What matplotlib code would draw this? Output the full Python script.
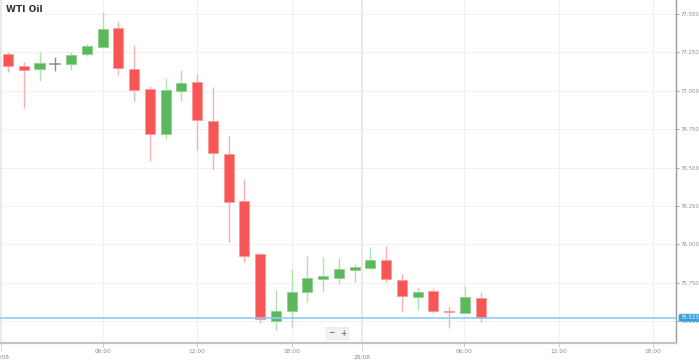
import matplotlib
matplotlib.use("Agg")
import matplotlib.pyplot as plt
from matplotlib.patches import Rectangle
import matplotlib.transforms as mtransforms

# ---- data (hourly candles, WTI Oil) ----
opens  = [77.238, 77.162, 77.140, 77.175, 77.175, 77.238, 77.287, 77.409, 77.145, 77.010,
          76.719, 76.999, 77.056, 76.804, 76.587, 76.283, 75.939, 75.503, 75.570, 75.693,
          75.778, 75.780, 75.834, 75.845, 75.899, 75.767, 75.661, 75.698, 75.566, 75.557,
          75.654]
highs  = [77.255, 77.190, 77.251, 77.222, 77.251, 77.305, 77.515, 77.456, 77.296, 77.032,
          77.082, 77.136, 77.110, 77.027, 76.706, 76.425, 75.943, 75.704, 75.841, 75.925,
          75.921, 75.911, 75.873, 75.986, 75.993, 75.806, 75.722, 75.715, 75.600, 75.730,
          75.689]
lows   = [77.125, 76.886, 77.066, 77.129, 77.136, 77.227, 77.280, 77.103, 76.935, 76.546,
          76.685, 76.936, 76.615, 76.482, 76.015, 75.888, 75.488, 75.444, 75.462, 75.626,
          75.693, 75.741, 75.754, 75.839, 75.754, 75.559, 75.574, 75.553, 75.455, 75.555,
          75.498]
closes = [77.162, 77.134, 77.183, 77.175, 77.233, 77.294, 77.404, 77.149, 77.004, 76.721,
          77.004, 77.049, 76.812, 76.594, 76.279, 75.927, 75.514, 75.568, 75.693, 75.782,
          75.795, 75.841, 75.852, 75.901, 75.774, 75.665, 75.693, 75.568, 75.562, 75.661,
          75.520]
current_price = 75.523

ytick_values = [75.50, 75.75, 76.00, 76.25, 76.50, 76.75, 77.00, 77.25, 77.50]
time_tick_pos = [6.03, 12.0, 18.03, 28.95, 34.98, 40.95]
time_tick_labels = ["06:00", "12:00", "18:00", "06:00", "12:00", "18:00"]
date_tick_pos = [-0.44, 22.48]
date_tick_labels = ["27/08", "28/08"]
title = "WTI Oil"

# ---- styling ----
RED_BODY, RED_EDGE, RED_WICK = "#f65656", "#f99a9a", "#f8b0b0"
GRN_BODY, GRN_EDGE, GRN_WICK = "#5cb85c", "#8fd08f", "#b0dfb0"
DOJI = "#8a8a8a"
TICK_COLOR = "#8c8c8c"

fig = plt.figure(figsize=(6.99, 3.61), dpi=100)
fig.patch.set_facecolor("white")
ax = fig.add_axes([0, 18 / 361, 676 / 699, 343 / 361])
ax.set_facecolor("white")

ax.set_xlim(-0.509, 42.4)
ax.set_ylim(75.359, 77.591)

# grid
for y in ytick_values:
    ax.axhline(y, color="#f1f1f1", lw=0.9, zorder=0)
for x in time_tick_pos:
    ax.axvline(x, color="#f1f1f1", lw=0.9, zorder=0)
for x in date_tick_pos:
    ax.axvline(x, color="#e9e9e9", lw=1.4, zorder=0)

# candles
w = 0.64
for i, (o, h, l, c) in enumerate(zip(opens, highs, lows, closes)):
    if c > o:
        body, edge, wick = GRN_BODY, GRN_EDGE, GRN_WICK
    elif c < o:
        body, edge, wick = RED_BODY, RED_EDGE, RED_WICK
    else:
        body, edge, wick = DOJI, DOJI, DOJI
    ax.plot([i, i], [l, h], color=wick, lw=1.0, zorder=2, solid_capstyle="butt")
    if c == o:
        ax.plot([i - w / 2, i + w / 2], [o, o], color=body, lw=1.1, zorder=3)
    else:
        lo, hi = min(o, c), max(o, c)
        ax.add_patch(Rectangle((i - w / 2, lo), w, max(hi - lo, 0.004),
                               facecolor=body, edgecolor=edge, lw=0.6, zorder=3))

# current price line
ax.axhline(current_price, color="#8fcdf0", lw=1.2, zorder=4)

# spines
for s in ["top", "left"]:
    ax.spines[s].set_visible(False)
ax.spines["right"].set_color("#9a9a9a")
ax.spines["right"].set_linewidth(1.0)
ax.spines["bottom"].set_color("#c4c4c4")
ax.spines["bottom"].set_linewidth(1.6)

# y axis on right
ax.yaxis.tick_right()
ax.set_yticks(ytick_values)
ax.set_yticklabels([f"{v:.3f}" for v in ytick_values])
ax.tick_params(axis="y", which="major", length=2.0, width=0.6, color="#9a9a9a",
               labelsize=3.9, labelcolor=TICK_COLOR, pad=1.0)

# x axis
ax.set_xticks(time_tick_pos)
ax.set_xticklabels(time_tick_labels)
ax.set_xticks(date_tick_pos, minor=True)
ax.set_xticklabels(date_tick_labels, minor=True)
ax.tick_params(axis="x", which="major", length=3, width=0.6, color="#c4c4c4",
               labelsize=4.2, labelcolor=TICK_COLOR, pad=1.5)
ax.tick_params(axis="x", which="minor", length=6, width=0.6, color="#d0d0d0",
               labelsize=4.2, labelcolor=TICK_COLOR, pad=2.0)

# current price label box at right
trans = mtransforms.blended_transform_factory(ax.transAxes, ax.transData)
ax.text(1.006, current_price, f"{current_price:.3f}", transform=trans, fontsize=3.9,
        color="white", ha="left", va="center", zorder=10, clip_on=False,
        bbox=dict(boxstyle="round,pad=0.2,rounding_size=0.3", fc="#3aa0e0", ec="#3aa0e0", lw=0.5))

# title
fig.text(6 / 699, 1 - 10 / 361, title, fontsize=6.5, fontweight="bold", color="#333333",
         ha="left", va="center",
         bbox=dict(boxstyle="square,pad=0.3", fc="white", ec="none"))

# zoom buttons
for xp, ch in [(331, "\u2212"), (343, "+")]:
    fig.text(xp / 699, 1 - 333 / 361, ch, fontsize=5.5, color="#555555", ha="center",
             va="center", bbox=dict(boxstyle="square,pad=0.25", fc="#f2f2f2", ec="#e0e0e0", lw=0.4))

fig.savefig("out.png", dpi=100, facecolor="white")
